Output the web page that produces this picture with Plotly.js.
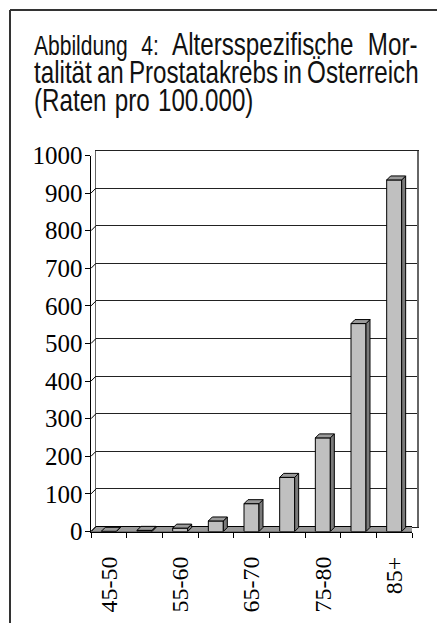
<!DOCTYPE html>
<html><head><meta charset="utf-8">
<script src="https://cdn.plot.ly/plotly-3.0.1.min.js"></script>
<style>
html,body{margin:0;padding:0;background:#fff}
#chart{width:437px;height:623px}
#chart .annotation-text{transform-box:fill-box;transform-origin:0 50%;transform:scaleX(0.78)}
</style>
</head><body><div id="chart"></div>
<script>
// ---- data ----
const categories = ['45-50','50-55','55-60','60-65','65-70','70-75','75-80','80-85','85+'];
const rates = [0.5, 3, 9, 28, 74, 144, 249, 553, 935];
const labeledCategories = ['45-50','55-60','65-70','75-80','85+'];
const yTicks = [0,100,200,300,400,500,600,700,800,900,1000];
const titleLines = [
  '<span style="font-size:27px">Abbildung 4:</span> Altersspezifische Mor-',
  'talität an Prostatakrebs in Österreich',
  '(Raten pro 100.000)'
];
const titleWordSpacing = ['10px', '-2px', '2px'];

// ---- geometry (styling) ----
const W = 437, H = 623;
const fx = p => p / W, fy = p => 1 - p / H;
const front = {x0: 91, x1: 412, yTop: 155.5, yBot: 531.5};
const back  = {x0: 96, x1: 417, yTop: 150.5, yBot: 526.5};
const yMax = 1000;
const n = categories.length;
const unitX = (front.x1 - front.x0) / n;           // px per category
const unitY = (front.yBot - front.yTop) / yMax;     // px per rate unit
const barW = 0.42;
const depthX = 4 / unitX, depthY = 4 / unitY;       // bar depth
const floorDX = 5 / unitX, floorDY = 5 / unitY;     // floor depth

const xs = categories.map((c, i) => i);

// side and top faces of the bars
const sideX = [], sideY = [], topX = [], topY = [];
rates.forEach((v, i) => {
  const r = i + barW / 2, l = i - barW / 2;
  sideX.push(r, r, r + depthX, r + depthX, r, null);
  sideY.push(0, v, v + depthY, depthY, 0, null);
  topX.push(l, r, r + depthX, l + depthX, l, null);
  topY.push(v, v, v + depthY, v + depthY, v, null);
});

// slanted connectors between front y ticks and back wall
const connX = [], connY = [];
yTicks.forEach(t => { connX.push(-0.5, -0.5 + floorDX, null); connY.push(t, t + floorDY, null); });

const xl = -0.5, xr = n - 0.5;
const floorPath = `M ${xl},0 L ${xr},0 L ${xr + floorDX},${floorDY} L ${xl + floorDX},${floorDY} Z`;

const serif = 'Liberation Serif, Times New Roman, serif';
const sans = 'Liberation Sans, Arial, sans-serif';

const traces = [
  {x: [xl], y: [0], xaxis: 'x', yaxis: 'y', mode: 'markers', marker: {opacity: 0}, hoverinfo: 'skip', showlegend: false},
  {type: 'bar', x: xs, y: rates, xaxis: 'x2', yaxis: 'y2', width: barW,
   marker: {color: '#c0c0c0', line: {color: '#000', width: 1}}, showlegend: false},
  {x: sideX, y: sideY, xaxis: 'x2', yaxis: 'y2', mode: 'lines', fill: 'toself', fillcolor: '#7a7a7a',
   line: {color: '#000', width: 1}, hoverinfo: 'skip', showlegend: false},
  {x: topX, y: topY, xaxis: 'x2', yaxis: 'y2', mode: 'lines', fill: 'toself', fillcolor: '#9a9a9a',
   line: {color: '#000', width: 1}, hoverinfo: 'skip', showlegend: false},
  {x: connX, y: connY, xaxis: 'x2', yaxis: 'y2', mode: 'lines', line: {color: '#000', width: 1},
   cliponaxis: false, hoverinfo: 'skip', showlegend: false}
];

const annotations = titleLines.map((t, i) => ({
  xref: 'paper', yref: 'paper', x: fx(32), y: fy([64.5, 92, 120][i]), xanchor: 'left', yanchor: 'bottom',
  text: t, showarrow: false, align: 'left', font: {family: sans, size: 31, color: '#111'}
}));

const layout = {
  width: W, height: H,
  margin: {l: 0, r: 0, t: 0, b: 0, pad: 0},
  paper_bgcolor: '#fff', plot_bgcolor: 'rgba(0,0,0,0)',
  showlegend: false,
  xaxis: {domain: [fx(back.x0), fx(back.x1)], range: [xl, xr], showgrid: false, zeroline: false,
          showticklabels: false, ticks: '', showline: true, mirror: true, linecolor: '#222', linewidth: 1},
  yaxis: {domain: [fy(back.yBot), fy(back.yTop)], range: [0, yMax], tickvals: yTicks, showgrid: true,
          gridcolor: '#222', gridwidth: 1, zeroline: false, showticklabels: false, ticks: '',
          showline: true, mirror: true, linecolor: '#666', linewidth: 1.5},
  xaxis2: {domain: [fx(front.x0), fx(front.x1)], range: [xl, xr], anchor: 'y2',
           tickmode: 'array', tickvals: labeledCategories.map(c => categories.indexOf(c)), ticktext: labeledCategories,
           ticks: '', tickangle: -90, ticklabelstandoff: 14,
           minor: {tick0: -0.5, dtick: 1, ticks: 'outside', ticklen: 5, tickcolor: '#000', tickwidth: 1},
           tickfont: {family: serif, size: 24, color: '#000'},
           showgrid: false, zeroline: false, showline: true, linecolor: '#000', linewidth: 1.5},
  yaxis2: {domain: [fy(front.yBot), fy(front.yTop)], range: [0, yMax], anchor: 'x2',
           tickvals: yTicks, ticks: 'outside', ticklen: 5, tickcolor: '#000', tickwidth: 1,
           ticklabelstandoff: -3,
           tickfont: {family: serif, size: 25, color: '#000'},
           showgrid: false, zeroline: false, showline: true, linecolor: '#000', linewidth: 1.5},
  shapes: [
    {type: 'path', xref: 'x2', yref: 'y2', path: floorPath, fillcolor: '#9a9a9a',
     line: {color: '#000', width: 1}, layer: 'below'},
    {type: 'line', xref: 'paper', yref: 'paper', x0: fx(10), x1: fx(10), y0: fy(10), y1: 0,
     line: {color: '#333', width: 2}},
    {type: 'line', xref: 'paper', yref: 'paper', x0: fx(10), x1: 1, y0: fy(10), y1: fy(10),
     line: {color: '#333', width: 2}}
  ],
  annotations: annotations
};

Plotly.newPlot('chart', traces, layout, {staticPlot: true}).then(gd => {
  gd.querySelectorAll('.annotation-text').forEach((el, i) => {
    if (titleWordSpacing[i]) el.style.wordSpacing = titleWordSpacing[i];
  });
});
</script></body></html>
